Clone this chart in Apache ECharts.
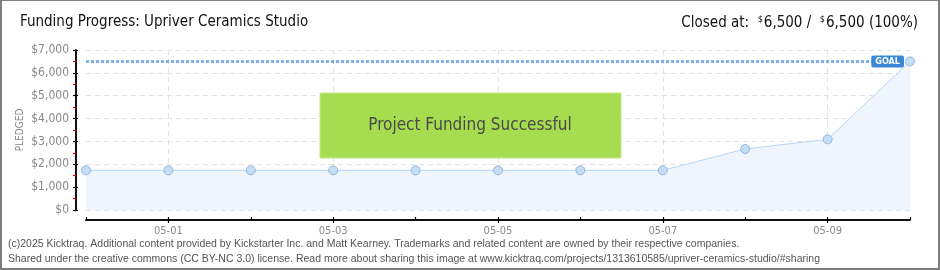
<!DOCTYPE html>
<html><head><meta charset="utf-8">
<script src="https://cdn.jsdelivr.net/npm/echarts@6/dist/echarts.min.js"></script>
<style>
html,body{margin:0;padding:0;background:#fff;}
#wrap{position:relative;width:940px;height:270px;}
#c{width:940px;height:270px;}
#frame{position:absolute;left:0;top:0;width:940px;height:270px;box-sizing:border-box;border:2px solid #7d7d7d;border-top-width:1px;pointer-events:none;}
</style></head>
<body><div id="wrap"><div id="c"></div><div id="frame"></div></div>
<script>
const dates = ['04-30','05-01','05-02','05-03','05-04','05-05','05-06','05-07','05-08','05-09','05-10'];
const pledged = [1736,1736,1736,1736,1736,1736,1736,1736,2669,3093,6500];
const goal = 6500;
const yMax = 7000, yStep = 1000;
const yAxisTitle = 'PLEDGED';
const titleText = 'Funding Progress: Upriver Ceramics Studio';
const closedAmount = '6,500', goalAmount = '6,500', percentText = '(100%)';
const bannerText = 'Project Funding Successful';
const footer1 = '(c)2025 Kicktraq. Additional content provided by Kickstarter Inc. and Matt Kearney. Trademarks and related content are owned by their respective companies.';
const footer2 = 'Shared under the creative commons (CC BY-NC 3.0) license. Read more about sharing this image at www.kicktraq.com/projects/1313610585/upriver-ceramics-studio/#sharing';

const chart = echarts.init(document.getElementById('c'), null, {renderer:'canvas'});
const gridL = 86, gridR = 30, gridT = 50, gridB = 60;
const axFont = 'DejaVu Sans Condensed';
const fmtY = v => '$' + v.toLocaleString('en-US');
const xBase = {
  type:'category', data:dates, boundaryGap:false, offset:10, position:'bottom',
  axisLine:{show:true, onZero:false, lineStyle:{color:'#000', width:1.5}},
};
const yBase = {
  type:'value', min:0, max:yMax, interval:yStep, offset:10, position:'left',
  axisLine:{show:true, onZero:false, lineStyle:{color:'#000', width:1.5}},
};
chart.setOption({
  animation:false,
  grid:{left:gridL, right:gridR, top:gridT, bottom:gridB},
  xAxis:[
    Object.assign({}, xBase, {
      axisTick:{show:true, length:3, lineStyle:{color:'#000', width:1.2}},
      axisLabel:{color:'#888', fontSize:11, fontFamily:axFont, margin:6,
        interval:(i)=> i%2===1},
      splitLine:{show:true, lineStyle:{color:'#e2e2e2', type:[5,4]}}
    }),
    Object.assign({}, xBase, {
      axisTick:{show:true, inside:true, length:3, lineStyle:{color:'#000', width:1.2}},
      axisLabel:{show:false}, splitLine:{show:false}
    })
  ],
  yAxis:[
    Object.assign({}, yBase, {
      axisTick:{show:true, length:3, lineStyle:{color:'#000', width:1.2}},
      minorTick:{show:true, splitNumber:2, length:3, lineStyle:{color:'#e00000', width:1.2}},
      axisLabel:{color:'#888', fontSize:12, fontFamily:axFont, margin:7, formatter:fmtY},
      splitLine:{show:true, lineStyle:{color:'#e2e2e2', type:[5,4]}}
    }),
    Object.assign({}, yBase, {
      axisTick:{show:true, inside:true, length:2, lineStyle:{color:'#000', width:1.2}},
      axisLabel:{show:false}, splitLine:{show:false}
    })
  ],
  series:[{
    type:'line', data:pledged, xAxisIndex:0, yAxisIndex:0,
    symbol:'circle', symbolSize:9, showAllSymbol:true,
    lineStyle:{color:'#b7d5f4', width:1},
    itemStyle:{color:'#c6ddf6', borderColor:'#93b5dc', borderWidth:1},
    areaStyle:{color:'#eef5fd', opacity:1},
    z:3,
    markLine:{
      silent:true, symbol:'none', z:2,
      lineStyle:{color:'#7eb1e8', width:3, type:[3,2]},
      data:[{yAxis:goal}],
      label:{show:true, position:'insideEnd', formatter:'GOAL', color:'#fff',
        backgroundColor:'#3b88d8', borderRadius:2, padding:[2,4,1,4],
        fontSize:9, fontFamily:axFont, fontWeight:'bold', distance:[6,0]}
    }
  }],
  graphic:[
    {type:'text', x:20, y:130, rotation:Math.PI/2, style:{text:yAxisTitle, fill:'#888', fontSize:10,
      fontFamily:axFont, align:'center', verticalAlign:'middle'}},
    {type:'text', left:20, top:15, style:{text:titleText, fill:'#111', fontSize:15, fontFamily:'DejaVu Sans Condensed'}},
    {type:'text', right:22, top:15, style:{
      rich:{
        n:{fontSize:15, fontFamily:'DejaVu Sans Condensed', fill:'#111'},
        s:{fontSize:9, fontFamily:'DejaVu Sans Condensed', fill:'#111', verticalAlign:'top', padding:[0,1,8,0]}
      },
      text:'{n|Closed at:  }{s|$}{n|'+closedAmount+' /  }{s|$}{n|'+goalAmount+' '+percentText+'}'
    }},
    {type:'rect', shape:{x:320, y:93, width:301, height:65},
      style:{fill:'#a6dc50', stroke:'#c2ea85', lineWidth:1}, z:10},
    {type:'text', x:470, y:126, z:11, style:{text:bannerText, fill:'#4a4a4a', fontSize:17,
      fontFamily:'DejaVu Sans Condensed', align:'center', verticalAlign:'middle',
      textShadowColor:'#fff', textShadowOffsetX:1, textShadowOffsetY:1, textShadowBlur:0}},
    {type:'text', left:8, top:239, style:{text:footer1, fill:'#555', fontSize:10.5, fontFamily:'Liberation Sans'}},
    {type:'text', left:8, top:254, style:{text:footer2, fill:'#555', fontSize:10.5, fontFamily:'Liberation Sans'}}
  ]
});
</script></body></html>
